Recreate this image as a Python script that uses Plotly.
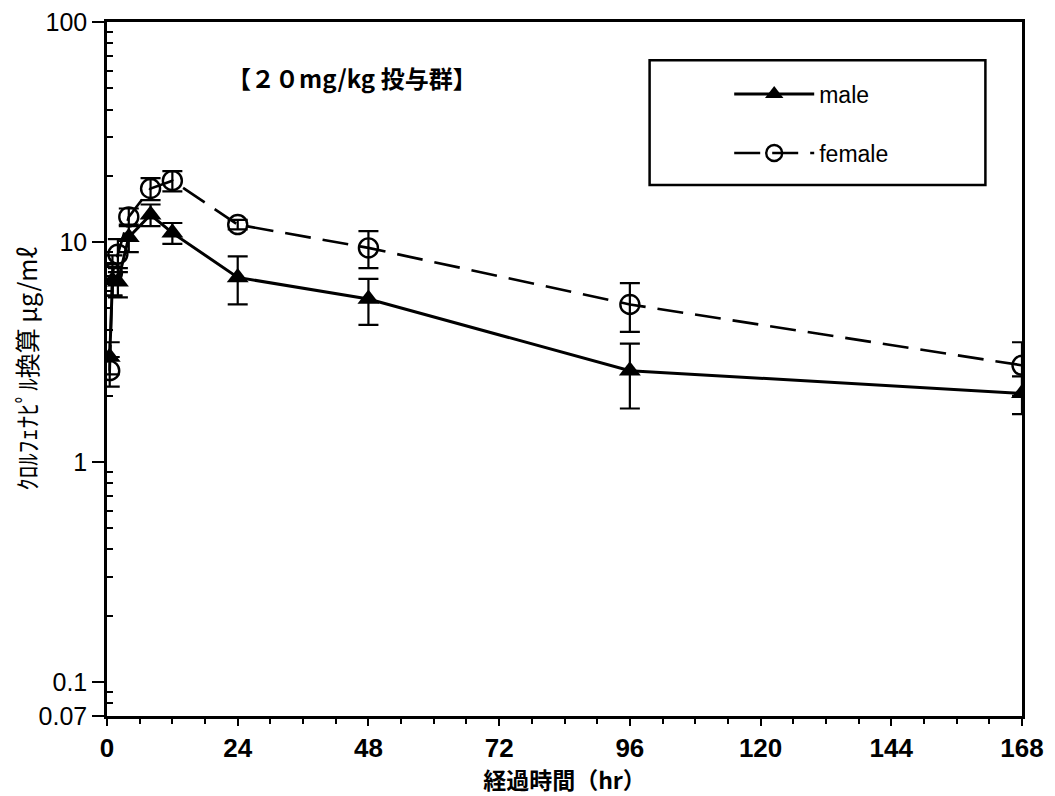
import plotly.graph_objects as go
import math

time_hr = [0.5, 1, 2, 4, 8, 12, 24, 48, 96, 168]
male = [3.0, 6.7, 6.6, 10.5, 13.3, 11.0, 6.9, 5.5, 2.6, 2.05]
male_sd = [0.5, 1.0, 1.0, 1.5, 1.5, 1.2, 1.7, 1.3, 0.85, 0.4]
female = [2.6, 7.2, 8.8, 13.0, 17.5, 19.0, 12.0, 9.4, 5.2, 2.75]
female_sd = [0.4, 1.5, 1.5, 1.2, 2.0, 2.0, 0.6, 1.8, 1.3, 0.75]

x_ticks = [0, 24, 48, 72, 96, 120, 144, 168]
y_ticks = [0.07, 0.1, 1, 10, 100]
y_ticklabels = ["0.07", "0.1", "1", "10", "100"]
y_minor = [0.08, 0.09, 0.2, 0.3, 0.4, 0.5, 0.6, 0.7, 0.8, 0.9,
           2, 3, 4, 5, 6, 7, 8, 9, 20, 30, 40, 50, 60, 70, 80, 90]

BASE = "Liberation Sans, Arial, sans-serif"
NARROW = "Liberation Sans Narrow, Arial Narrow, Liberation Sans, sans-serif"
CJK = "Noto Sans CJK JP, sans-serif"

fig = go.Figure()
fig.add_trace(go.Scatter(
    x=time_hr, y=male, name="male", legendgroup="m", mode="lines+markers",
    line=dict(color="black", width=3, dash="solid"),
    marker=dict(symbol="triangle-up", size=19, color="black"),
    error_y=dict(type="data", array=male_sd, color="black", thickness=2.2, width=10),
))
fig.add_trace(go.Scatter(
    x=time_hr, y=female, name="female", legendgroup="f", mode="lines+markers",
    line=dict(color="black", width=2.6, dash="26px,12px"),
    marker=dict(symbol="circle-open", size=19, color="black", line=dict(width=2.4, color="black")),
    error_y=dict(type="data", array=female_sd, color="black", thickness=2.2, width=10),
))

fig.update_layout(
    width=1047, height=788,
    margin=dict(l=99, r=33, t=14, b=80),
    paper_bgcolor="white", plot_bgcolor="white",
    font=dict(family=BASE, color="black", size=20),
    showlegend=True,
    legend=dict(
        x=0.68, y=0.927, xanchor="left", yanchor="top",
        bgcolor="rgba(0,0,0,0)", borderwidth=0,
        font=dict(family=BASE, size=23, color="black"),
        tracegroupgap=26, itemwidth=80,
    ),
    xaxis=dict(
        range=[0, 168], tickvals=x_ticks, ticktext=[str(v) for v in x_ticks],
        automargin=False, ticklabeloverflow="allow",
        showgrid=False, zeroline=False,
        showline=True, linecolor="black", linewidth=2.5, mirror=True,
        ticks="outside", ticklen=7, tickwidth=2, tickcolor="black",
        minor=dict(dtick=6, ticks="outside", ticklen=5, tickwidth=1.5, tickcolor="black", showgrid=False),
        tickfont=dict(family=NARROW, size=26, color="black", weight="bold"),
        title=dict(text="経過時間（hr）", font=dict(family=CJK, size=23, color="black", weight="bold"), standoff=5),
    ),
    yaxis=dict(
        type="log", range=[math.log10(0.07), 2],
        tickvals=y_ticks, ticktext=y_ticklabels,
        automargin=False, ticklabeloverflow="allow",
        showgrid=False, zeroline=False,
        showline=True, linecolor="black", linewidth=2.5, mirror=True,
        ticks="outside", ticklen=12, tickwidth=2, tickcolor="black",
        minor=dict(tickvals=y_minor, ticks="inside", ticklen=6, tickwidth=1.5, tickcolor="black", showgrid=False),
        tickfont=dict(family=BASE, size=25, color="black"),
        title=dict(text="ｸﾛﾙﾌｪﾅﾋﾟﾙ換算 μg/mℓ", font=dict(family=CJK, size=25, color="black"), standoff=22),
    ),
    shapes=[dict(type="rect", xref="paper", yref="paper",
                 x0=0.593, x1=0.96, y0=0.765, y1=0.945,
                 line=dict(color="black", width=2.5), fillcolor="rgba(0,0,0,0)")],
    annotations=[dict(text="【２０mg/kg 投与群】", xref="paper", yref="paper",
                      x=0.268, y=0.92, xanchor="center", yanchor="middle", showarrow=False,
                      font=dict(family=CJK, size=24, color="black", weight="bold"))],
)

fig.write_html("out.html")
